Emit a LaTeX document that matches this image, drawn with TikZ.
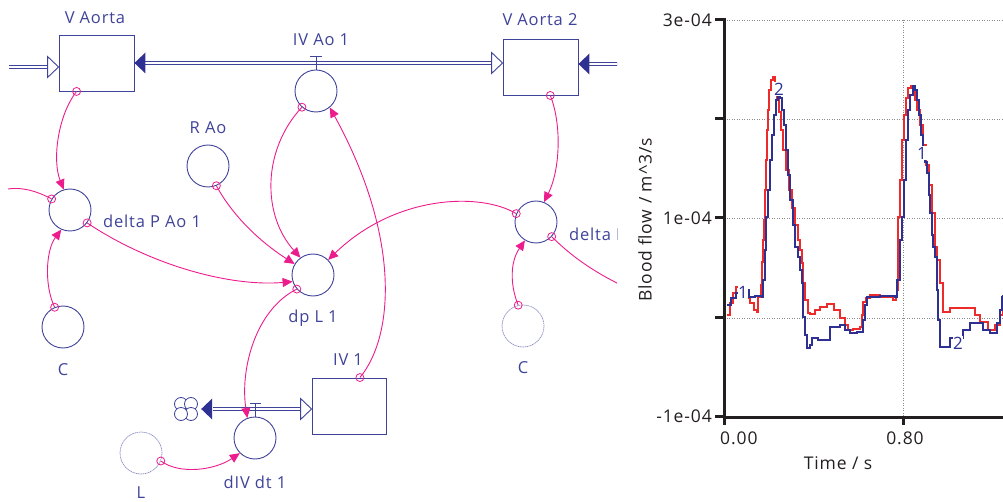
\documentclass[tikz,border=0pt]{standalone}
\usepackage{fontspec}
\setmainfont{Open Sans}
\newfontfamily\labfont[LetterSpace=5]{Open Sans}
\usetikzlibrary{arrows.meta,calc}
\definecolor{sb}{HTML}{3F4399}
\definecolor{fb}{HTML}{2E3192}
\definecolor{pk}{HTML}{EC1C8C}
\definecolor{ghost}{HTML}{8A8CC4}
\definecolor{rd}{HTML}{EE2B2B}
\definecolor{bl}{HTML}{2E3192}
\definecolor{ax}{HTML}{231F20}
\definecolor{gridc}{HTML}{8C8C8C}
\begin{document}
\begin{tikzpicture}[x=1pt,y=-1pt,
  lab/.style={text=sb,font=\labfont\fontsize{16.5}{19}\selectfont,inner sep=0pt},
  stock/.style={draw=sb,line width=0.9pt,minimum width=75pt,minimum height=56pt,inner sep=0pt},
  conv/.style={draw=sb,line width=0.9pt,circle,minimum size=42pt,inner sep=0pt},
  ghostconv/.style={draw=ghost,line width=0.7pt,circle,minimum size=42pt,inner sep=0pt,dash pattern=on 1.2pt off 0.6pt},
  pipe/.style={draw=sb,double=white,double distance=2.6pt,line width=0.9pt},
  hollow/.style={draw=sb,fill=white,line width=0.9pt},
  valve/.style={draw=sb,line width=0.9pt},
  conn/.style={draw=pk,line width=0.9pt,-{Triangle[length=10pt,width=9pt]}},
  connplain/.style={draw=pk,line width=0.9pt},
  sdot/.style={circle,draw=pk,line width=0.8pt,minimum size=8pt,inner sep=0pt},
  tlab/.style={text=ax,font=\labfont\fontsize{17.5}{20}\selectfont,inner sep=0pt},
  clab/.style={text=bl,fill=white,font=\labfont\fontsize{17}{19}\selectfont,inner sep=0.6pt},
  gridl/.style={draw=gridc,line width=0.8pt,dash pattern=on 1pt off 1.5pt},
  axl/.style={draw=ax,line width=3pt},
  curve/.style={line width=1.5pt,line join=miter}
]
\useasboundingbox (0,0) rectangle (1003,502);

% ================= stock-and-flow diagram =================
\begin{scope}
\clip (0,0) rectangle (617,502);
% stocks
\node[stock] (va) at (96.5,63) {};
\node[stock] (va2) at (540.5,67) {};
\node[stock,minimum width=74pt] (iv1) at (349,406) {};
% converters
\node[conv] (ivao) at (316,91) {};
\node[conv] (rao) at (208,166) {};
\node[conv] (dpa1) at (70,210) {};
\node[conv] (dpl) at (313,275) {};
\node[conv] (c1) at (63,327) {};
\node[conv] (dpa2) at (536,222) {};
\node[ghostconv] (c2) at (523,326) {};
\node[conv] (divdt) at (255,438) {};
\node[ghostconv] (ll) at (141,453) {};
\node[minimum size=26pt,inner sep=0pt] (cloud) at (186,409) {};
% labels
\node[lab] (vaL) at (95,18) {V Aorta};
\node[lab] (va2L) at (540,20) {V Aorta 2};
\node[lab] (ivaoL) at (321,40) {IV Ao 1};
\node[lab] (raoL) at (208,128) {R Ao};
\node[lab,anchor=west] (dpa1L) at (103,221) {delta P Ao 1};
\node[lab] (dplL) at (313,318) {dp L 1};
\node[lab] (c1L) at (63,370) {C};
\node[lab,anchor=west] (dpa2L) at (569,234) {delta P};
\node[lab] (c2L) at (523,368) {C};
\node[lab] (iv1L) at (348,360) {IV 1};
\node[lab] (divdtL) at (255,482) {dIV dt 1};
\node[lab] (llL) at (141,493) {L};
% free ends
\coordinate (inL) at (9,67);
\coordinate (inR) at (622,64);
\coordinate (offL) at (8,189);
\coordinate (offR) at (625,287);
% flow IV Ao 1 (bi-flow between V Aorta and V Aorta 2)
\draw[pipe] ($(va.east)+(11,0)$) -- ($(va.east -| va2.west)+(-11,0)$);
\fill[fb] (va.east) -- ++(11,-10.5) -- ++(0,21) -- cycle;
\filldraw[hollow] (va.east -| va2.west) -- ++(-11,-10.5) -- ++(0,21) -- cycle;
\draw[valve] ($(ivao.north)+(-6,-13)$) -- ++(12,0) ($(ivao.north)+(0,-13)$) -- (ivao.north);
% inflow into V Aorta
\draw[pipe] (inL) -- ($(va.west)+(-11,4)$);
\filldraw[hollow] ($(va.west)+(0,4)$) -- ++(-11,-10.5) -- ++(0,21) -- cycle;
% inflow into V Aorta 2
\draw[pipe] (inR) -- ($(va2.east)+(11,-3)$);
\fill[fb] ($(va2.east)+(0,-3)$) -- ++(11,-10.5) -- ++(0,21) -- cycle;
% flow dIV dt 1 (bi-flow between cloud and IV 1)
\draw[pipe] ($(cloud.east)+(14,0)$) -- ($(iv1.west)+(-11,3)$);
\fill[fb] ($(cloud.east)+(2,0)$) -- ++(11,-10.5) -- ++(0,21) -- cycle;
\filldraw[hollow] ($(iv1.west)+(0,3)$) -- ++(-11,-10.5) -- ++(0,21) -- cycle;
\draw[valve] ($(divdt.north)+(-5,-13)$) -- ++(11,0) ($(divdt.north)+(0,-13)$) -- (divdt.north);
% cloud
\foreach \dx/\dy in {-5/-5,5/-5,5/5,-5/5}
  \filldraw[draw=sb,fill=white,line width=0.8pt] ($(cloud)+(\dx,\dy)$) circle[radius=6.5];
% connectors
\draw[conn] (va.235) node[sdot]{} .. controls (58,115) and (52,160) .. (dpa1.107);
\draw[connplain] (dpa1.149) node[sdot]{} .. controls (35,190) and (20,187) .. (offL);
\draw[conn] (dpa1.323) node[sdot]{} .. controls (150,265) and (230,287) .. (dpl.198);
\draw[conn] (rao.293) node[sdot]{} .. controls (235,220) and (265,245) .. (dpl.149);
\draw[conn] (ivao.229) node[sdot]{} .. controls (262,150) and (262,215) .. (dpl.126);
\draw[conn] (iv1.69) node[sdot]{} .. controls (395,335) and (400,235) .. (ivao.310);
\draw[conn] (va2.289) node[sdot]{} .. controls (562,125) and (560,170) .. (dpa2.68);
\draw[conn] (dpa2.157) node[sdot]{} .. controls (480,192) and (395,195) .. (dpl.45);
\draw[connplain] (dpa2.317) node[sdot]{} .. controls (575,260) and (600,275) .. (offR);
\draw[conn] (c1.113) node[sdot]{} .. controls (44,285) and (46,250) .. (dpa1.246);
\draw[conn] (c2.103) node[sdot]{} .. controls (510,285) and (510,262) .. (dpa2.239);
\draw[conn] (dpl.221) node[sdot]{} .. controls (255,310) and (240,370) .. (divdt.111);
\draw[conn] (ll.338) node[sdot]{} .. controls (180,475) and (215,470) .. (divdt.225);
\end{scope}

% ================= graph =================
\begin{scope}
\clip (620,0) rectangle (1003,502);
% grid
\foreach \yy in {20,119,218,318}
  \draw[gridl] (724,\yy) -- (1003,\yy);
\draw[gridl] (903,20) -- (903,416);
% curves
\draw[rd,curve] plot[const plot] coordinates {
(727,315) (730,303) (733,293) (736,287) (741,292) (746,298) (750,303) (754,310) (757,312) (758,297) (761,285) (762,262) (763,240) (764,220) (765,190) (766,160) (767,130) (768,110) (769,90) (771,80) (773,77) (775,90) (777,100) (779,112) (781,130) (783,150) (786,170) (789,190) (792,208) (795,225) (798,240) (800,250) (802,263) (803,283) (805,300) (808,313) (810,314) (815,310) (820,307) (827,304) (834,310) (840,318) (845,325) (848,330) (853,329) (860,327) (862,315) (863,302) (866,298) (870,295) (880,297) (893,300) (896,297) (897,290) (898,260) (898,217) (900,180) (902,140) (904,115) (906,98) (908,88) (911,86) (913,92) (915,100) (917,110) (920,125) (923,145) (926,165) (929,185) (932,213) (935,247) (937,260) (940,283) (943,312) (950,308) (967,308) (975,315) (980,322) (988,330) (995,325) (1000,315) (1003,305)};
\draw[bl,curve] plot[const plot] coordinates {
(727,305) (731,298) (736,293) (742,290) (749,297) (755,296) (762,297) (763,280) (765,250) (766,217) (768,190) (770,160) (772,135) (774,115) (776,100) (778,96) (780,98) (782,110) (784,125) (786,150) (788,175) (790,200) (793,225) (795,247) (798,257) (800,270) (802,283) (803,317) (805,335) (807,348) (810,345) (812,338) (818,340) (825,340) (830,327) (840,325) (845,330) (850,333) (857,332) (863,320) (865,305) (867,297) (880,296) (895,297) (897,280) (900,240) (902,217) (904,180) (906,140) (908,110) (910,95) (913,86) (915,90) (917,100) (919,115) (921,135) (923,150) (925,162) (927,173) (929,195) (930,213) (932,235) (933,247) (935,257) (937,290) (938,320) (940,347) (947,347) (950,338) (956,338) (963,330) (970,323) (983,330) (990,333) (997,323) (1000,310) (1002,297) (1003,295)};
% curve labels
\node[clab] (n1) at (743,292) {1};
\node[clab] (n2) at (779,89) {2};
\node[clab] (n3) at (922,153) {1};
\node[clab] (n4) at (958,343) {2};
% axes
\draw[axl] (724,18.5) -- (724,417.5) -- (1003,417.5);
\foreach \yy in {20,119,218,318,416}
  \draw[axl] (715,\yy) -- (724,\yy);
\foreach \xx in {724,903}
  \draw[axl] (\xx,416) -- (\xx,425);
% tick labels
\node[tlab,anchor=east] (t3) at (712,20) {3e-04};
\node[tlab,anchor=east] (t1) at (712,218) {1e-04};
\node[tlab,anchor=east] (tm1) at (712,416) {-1e-04};
\node[tlab,anchor=west] (x0) at (720,438) {0.00};
\node[tlab] (x8) at (905,438) {0.80};
\node[tlab] (xl) at (838,463) {Time / s};
\node[tlab,rotate=90] (yl) at (645,220) {Blood flow / m\^{}3/s};
\end{scope}
\end{tikzpicture}
\end{document}
